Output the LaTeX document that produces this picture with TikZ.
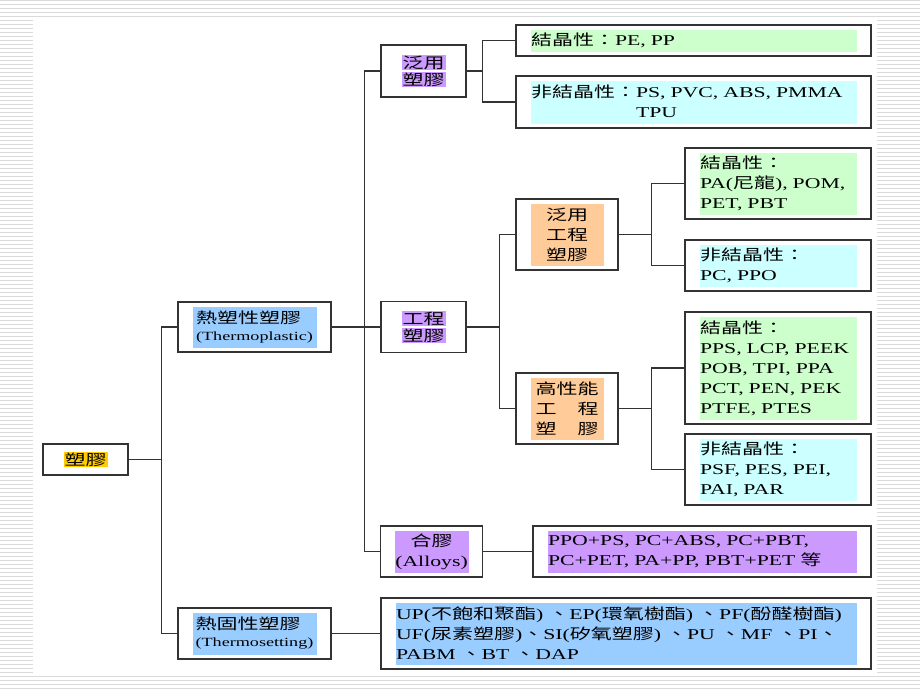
\documentclass[tikz,border=0pt]{standalone}
\usepackage{fontspec}
\setmainfont[FakeStretch=1.45]{Liberation Serif}
\newfontfamily\zh[FakeStretch=1.4]{Noto Sans CJK TC}
\usepackage{tikz}
\usepackage{xcolor}
\definecolor{gold}{HTML}{FFCC00}
\definecolor{lilac}{HTML}{CC99FF}
\definecolor{skyblue}{HTML}{99CCFF}
\definecolor{mint}{HTML}{CCFFCC}
\definecolor{aqua}{HTML}{CCFFFF}
\definecolor{peach}{HTML}{FFCC99}
\definecolor{stripe}{HTML}{DADADA}
\definecolor{edge}{HTML}{333333}
\setlength{\fboxsep}{1pt}
\newcommand{\hlline}[1]{\colorbox{lilac}{\zh #1}}

\tikzset{
    box/.style={draw=edge, line width=1.3pt, fill=white, rectangle, inner ysep=0pt,
        inner xsep=15pt, font=\fontsize{15}{20}\selectfont},
    hl/.style={path picture={\fill[#1]
        ([xshift=15pt,yshift=-5pt]path picture bounding box.north west) rectangle
        ([xshift=-14pt,yshift=4pt]path picture bounding box.south east);}},
    link/.style={draw=edge, line width=1.3pt},
}

\begin{document}
\begin{tikzpicture}[x=1pt, y=-1pt]
            \useasboundingbox (0,0) rectangle (920,690);
            \fill[white] (0,0) rectangle (920,690);
            \foreach \y in {0.7,4.7,...,16.7,676.7,680.7,...,688.7}
                \draw[stripe, line width=0.9pt] (0,\y) -- (920,\y);
            \foreach \y in {20.7,24.7,...,672.7}{
                \draw[stripe, line width=0.9pt] (0,\y) -- (33,\y);
                \draw[stripe, line width=0.9pt] (877,\y) -- (920,\y);
            }

            \node[box, minimum width=85pt, minimum height=31pt] (root) at (85.5,459.5)
                {\colorbox{gold}{\zh 塑膠}};
            \node[box, hl=skyblue, minimum width=153pt, minimum height=50pt, align=left] (tp) at (254.5,327)
                {{\zh 熱塑性塑膠}\\[-3pt]{\fontsize{12.5}{14}\selectfont (Thermoplastic)}};
            \node[box, hl=skyblue, minimum width=153pt, minimum height=51pt, align=left] (ts) at (254.5,633.5)
                {{\zh 熱固性塑膠}\\[-3pt]{\fontsize{12.5}{14}\selectfont (Thermosetting)}};

            \node[box, minimum width=85pt, minimum height=52pt, align=center] (gp) at (423.5,71)
                {\hlline{泛用}\\[-3pt]\hlline{塑膠}};
            \node[box, minimum width=85pt, minimum height=51pt, align=center] (ep) at (423.5,327)
                {\hlline{工程}\\[-3pt]\hlline{塑膠}};
            \node[box, hl=lilac, minimum width=101pt, minimum height=51pt, align=center] (al) at (431.5,551.5)
                {{\zh 合膠}\\(Alloys)};

            \node[box, hl=mint, minimum width=355pt, minimum height=31pt, text width=325pt, align=left] (gpc) at (693.5,40.5)
                {{\zh 結晶性：}PE, PP};
            \node[box, hl=aqua, minimum width=355pt, minimum height=52pt, text width=325pt, align=left] (gpa) at (693.5,102)
                {{\zh 非結晶性：}PS, PVC, ABS, PMMA\\\phantom{\zh 非結晶性：}TPU};

            \node[box, hl=peach, minimum width=102pt, minimum height=71pt, align=center] (gep) at (567,234.5)
                {\zh 泛用\\\zh 工程\\\zh 塑膠};
            \node[box, hl=peach, minimum width=102pt, minimum height=71pt, align=center] (hp) at (567,408.5)
                {\zh 高性能\\\zh 工　程\\\zh 塑　膠};

            \node[box, hl=mint, minimum width=186pt, minimum height=71pt, text width=156pt, align=left] (gepc) at (778,183.5)
                {{\zh 結晶性：}\\PA({\zh 尼龍}), POM,\\PET, PBT};
            \node[box, hl=aqua, minimum width=186pt, minimum height=51pt, text width=156pt, align=left] (gepa) at (778,265.5)
                {{\zh 非結晶性：}\\PC, PPO};
            \node[box, hl=mint, minimum width=186pt, minimum height=112pt, text width=156pt, align=left] (hpc) at (778,368)
                {{\zh 結晶性：}\\PPS, LCP, PEEK\\POB, TPI, PPA\\PCT, PEN, PEK\\PTFE, PTES};
            \node[box, hl=aqua, minimum width=186pt, minimum height=71pt, text width=156pt, align=left] (hpa) at (778,469.5)
                {{\zh 非結晶性：}\\PSF, PES, PEI,\\PAI, PAR};

            \node[box, hl=lilac, minimum width=338pt, minimum height=51pt, text width=308pt, align=left] (alc) at (702,551.5)
                {PPO+PS, PC+ABS, PC+PBT,\\PC+PET, PA+PP, PBT+PET {\zh 等}};
            \node[box, hl=skyblue, minimum width=490pt, minimum height=71pt, text width=460pt, align=left] (tsc) at (626,633.5)
                {UP({\zh 不飽和聚酯}) {\zh 、}EP({\zh 環氧樹酯}) {\zh 、}PF({\zh 酚醛樹酯})\\
                 UF({\zh 尿素塑膠}){\zh 、}SI({\zh 矽氧塑膠}) {\zh 、}PU {\zh 、}MF {\zh 、}PI{\zh 、}\\
                 PABM {\zh 、}BT {\zh 、}DAP};

            \draw[link] (root.east) -- ++(33,0) coordinate (j1);
            \draw[link] (tp.west) -- (tp.west -| j1) -- (ts.west -| j1) -- (ts.west);
            \draw[link] (tp.east) -- ++(33,0) coordinate (j2) -- (ep.west);
            \draw[link] (gp.west) -- (gp.west -| j2) -- (al.west -| j2) -- (al.west);
            \draw[link] (gp.east) -- ++(16,0) coordinate (j3);
            \draw[link] (gpc.west) -- (gpc.west -| j3) -- (gpa.west -| j3) -- (gpa.west);
            \draw[link] (ep.east) -- ++(33,0) coordinate (j4);
            \draw[link] (gep.west) -- (gep.west -| j4) -- (hp.west -| j4) -- (hp.west);
            \draw[link] (gep.east) -- ++(33,0) coordinate (j5);
            \draw[link] (gepc.west) -- (gepc.west -| j5) -- (gepa.west -| j5) -- (gepa.west);
            \draw[link] (hp.east) -- ++(33,0) coordinate (j6);
            \draw[link] (hpc.west) -- (hpc.west -| j6) -- (hpa.west -| j6) -- (hpa.west);
            \draw[link] (al.east) -- (alc.west);
            \draw[link] (ts.east) -- (tsc.west);
      \end{tikzpicture}
\end{document}
